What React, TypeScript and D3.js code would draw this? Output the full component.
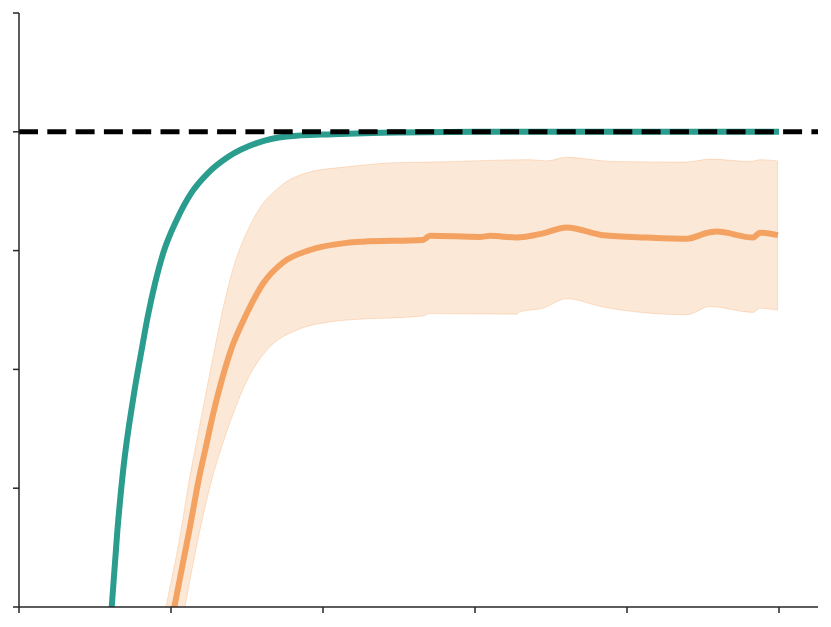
import React from "react";
import * as d3 from "d3";

// Teal (reference) curve
const tealX = [0.59, 0.61, 0.647, 0.686, 0.752, 0.807, 0.847, 0.895, 0.949, 1.038, 1.136, 1.245, 1.377, 1.564, 1.761, 2.066, 2.5, 3.0, 4.0, 5.0];
const tealY = [-0.075, 0.0, 0.128, 0.232, 0.352, 0.433, 0.489, 0.545, 0.596, 0.652, 0.698, 0.731, 0.758, 0.781, 0.792, 0.796, 0.799, 0.8, 0.8, 0.8];

// Orange mean
const meanX = [0.99, 1.022, 1.125, 1.186, 1.23, 1.278, 1.334, 1.399, 1.498, 1.607, 1.737, 1.914, 2.156, 2.263, 2.658, 2.704, 3.033, 3.099, 3.274, 3.447, 3.603, 3.842, 4.13, 4.393, 4.546, 4.59, 4.829, 4.875, 4.993];
const meanY = [-0.04, 0.0, 0.135, 0.219, 0.27, 0.326, 0.382, 0.436, 0.494, 0.545, 0.58, 0.601, 0.613, 0.615, 0.618, 0.625, 0.623, 0.625, 0.622, 0.629, 0.639, 0.626, 0.622, 0.62, 0.631, 0.632, 0.622, 0.63, 0.626];

// Band upper edge
const upperX = [0.93, 0.967, 1.07, 1.114, 1.158, 1.202, 1.245, 1.289, 1.334, 1.388, 1.539, 1.717, 1.893, 2.156, 2.485, 2.704, 3.362, 3.472, 3.603, 3.908, 4.393, 4.546, 4.809, 4.875, 4.99];
const upperY = [-0.048, 0.0, 0.135, 0.205, 0.265, 0.323, 0.38, 0.437, 0.493, 0.551, 0.652, 0.708, 0.731, 0.741, 0.748, 0.749, 0.753, 0.751, 0.757, 0.75, 0.749, 0.754, 0.75, 0.753, 0.751];

// Band lower edge
const lowerX = [1.03, 1.092, 1.195, 1.268, 1.334, 1.41, 1.502, 1.564, 1.651, 1.827, 2.046, 2.156, 2.658, 2.704, 3.274, 3.296, 3.447, 3.603, 3.842, 4.13, 4.393, 4.546, 4.829, 4.875, 4.99];
const lowerY = [-0.09, 0.0, 0.135, 0.214, 0.27, 0.326, 0.382, 0.41, 0.438, 0.466, 0.48, 0.483, 0.49, 0.494, 0.493, 0.497, 0.503, 0.519, 0.505, 0.495, 0.492, 0.506, 0.496, 0.503, 0.5];

const xTicks = [0, 1, 2, 3, 4, 5];
const yTicks = [0, 0.2, 0.4, 0.6, 0.8, 1.0];
const targetValue = 0.8;

export default function App() {
  const W = 831, H = 627;
  const left = 19, right = 818, top = 13, bottom = 607;
  const x = d3.scaleLinear().domain([0, (right - left) / 152]).range([left, right]);
  const y = d3.scaleLinear().domain([0, 1]).range([bottom, top]);

  const teal = tealX.map((v, i) => [v, tealY[i]] as [number, number]);
  const mean = meanX.map((v, i) => [v, meanY[i]] as [number, number]);
  const band = upperX.map((v, i) => ({ ux: v, uy: upperY[i], lx: lowerX[i], ly: lowerY[i] }));

  const line = d3.line<[number, number]>().x(d => x(d[0])).y(d => y(d[1])).curve(d3.curveMonotoneX);
  const area = d3.area<any>()
    .x0(d => x(d.lx)).y0(d => y(d.ly))
    .x1(d => x(d.ux)).y1(d => y(d.uy))
    .curve(d3.curveMonotoneX);

  const axisColor = "#262626";
  return (
    <svg width={W} height={H} style={{ position: "absolute", left: 0, top: 0 }}>
      <defs>
        <clipPath id="plot">
          <rect x={left} y={top} width={right - left} height={bottom - top} />
        </clipPath>
      </defs>
      <rect width={W} height={H} fill="#fff" />
      <g clipPath="url(#plot)">
        <path d={area(band) || ""} fill="#f4a261" fillOpacity={0.25} stroke="#f4a261" strokeOpacity={0.3} strokeWidth={1} />
        <path d={line(mean) || ""} fill="none" stroke="#f4a261" strokeWidth={6} />
        <path d={line(teal) || ""} fill="none" stroke="#2a9d8f" strokeWidth={6} />
      </g>
      <line x1={left} x2={right} y1={y(targetValue)} y2={y(targetValue)} stroke="#000" strokeWidth={5} strokeDasharray="19 9.3" />
      <line x1={left} x2={left} y1={top} y2={bottom} stroke={axisColor} strokeWidth={1.5} />
      <line x1={left} x2={right} y1={bottom} y2={bottom} stroke={axisColor} strokeWidth={1.5} />
      {yTicks.map(t => (
        <line key={"y" + t} x1={left - 6} x2={left} y1={y(t)} y2={y(t)} stroke={axisColor} strokeWidth={1.5} />
      ))}
      {xTicks.map(t => (
        <line key={"x" + t} x1={x(t)} x2={x(t)} y1={bottom} y2={bottom + 6} stroke={axisColor} strokeWidth={1.5} />
      ))}
    </svg>
  );
}
